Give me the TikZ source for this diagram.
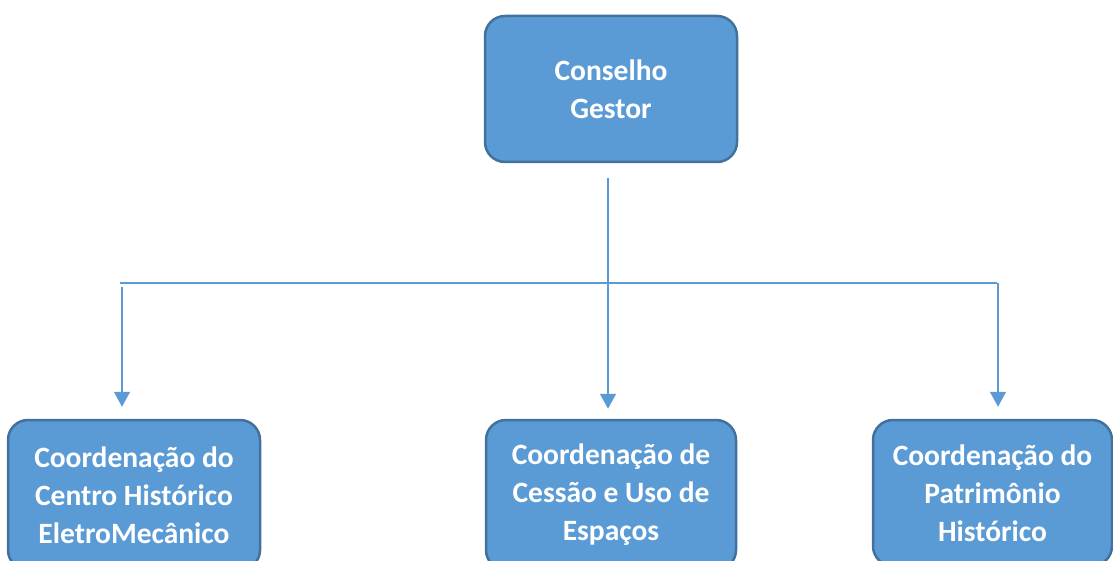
\documentclass[tikz,border=0pt]{standalone}
\usepackage{fontspec}
\setmainfont{Carlito}
\usepackage{xcolor}
\usetikzlibrary{arrows.meta}
\definecolor{boxfill}{HTML}{5B9BD5}
\definecolor{boxline}{HTML}{41719C}
\definecolor{linkblue}{HTML}{5B9BD5}
\tikzset{
	orgbox/.style={draw=boxline, line width=2.5pt, fill=boxfill, rounded corners=20pt,
		text=white, font=\fontsize{29.5}{38}\selectfont\bfseries, align=center,
		inner sep=0pt, minimum width=252pt, minimum height=146pt},
	link/.style={draw=linkblue, line width=1.6pt},
	arr/.style={link, -{Triangle[width=16pt,length=15pt]}}
}
\begin{document}
\begin{tikzpicture}[x=1pt, y=-1pt]
		\useasboundingbox (0,0) rectangle (1113,561);
		% boxes
		\node[orgbox] (gestor) at (611,89) {Conselho\\Gestor};
		\node[orgbox, minimum height=150pt] (centro) at (134,495) {Coordenação do\\Centro Histórico\\EletroMecânico};
		\node[orgbox, minimum width=250pt, minimum height=150pt] (cessao) at (611,495) {Coordenação de\\Cessão e Uso de\\Espaços};
		\node[orgbox, minimum width=239pt, minimum height=146pt] (patrimonio) at (992.5,493) {Coordenação do\\Patrimônio\\Histórico};
		% connectors
		\coordinate (m1) at (608,178);
		\coordinate (h1) at (120,283);
		\coordinate (h2) at (997,283);
		\coordinate (l1) at (122,287);
		\coordinate (r1) at (998,283);
		\draw[link] (h1) -- (h2);
		\draw[arr, shorten >=10pt] (m1) -- (m1 |- cessao.north);
		\draw[arr, shorten >=12pt] (l1) -- (l1 |- centro.north);
		\draw[arr, shorten >=12pt] (r1) -- (r1 |- patrimonio.north);
	\end{tikzpicture}
\end{document}
